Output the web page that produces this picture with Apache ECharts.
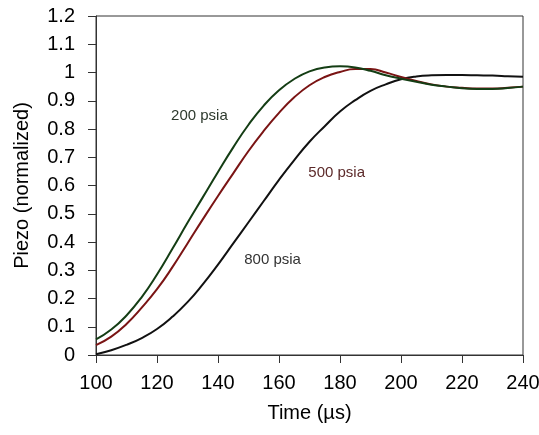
<!DOCTYPE html>
<html>
<head>
<meta charset="utf-8">
<script src="https://cdn.jsdelivr.net/npm/echarts@6/dist/echarts.min.js"></script>
<style>
html,body{margin:0;padding:0;background:#fff;}
#chart{width:539px;height:435px;}
</style>
</head>
<body>
<div id="chart"></div>
<script>
const times = [100,105,110,115,120,125,130,135,140,145,150,155,160,165,170,175,180,185,190,195,200,205,210,215,220,225,230,235,240];
const psia200 = [0.055,0.09,0.14,0.205,0.285,0.375,0.468,0.558,0.648,0.735,0.815,0.883,0.937,0.977,1.004,1.018,1.022,1.018,1.006,0.99,0.978,0.967,0.957,0.95,0.944,0.942,0.942,0.945,0.95];
const psia500 = [0.035,0.065,0.11,0.168,0.233,0.31,0.395,0.48,0.563,0.643,0.722,0.793,0.857,0.912,0.955,0.984,1.002,1.012,1.012,1.0,0.984,0.97,0.958,0.95,0.946,0.943,0.943,0.946,0.95];
const psia800 = [0.003,0.017,0.036,0.06,0.092,0.135,0.187,0.25,0.32,0.395,0.47,0.545,0.62,0.69,0.755,0.81,0.862,0.902,0.935,0.958,0.976,0.986,0.99,0.991,0.991,0.99,0.989,0.987,0.985];
const seriesNames = ['200 psia','500 psia','800 psia'];
const labelPos = [[133.9,0.846],[178.9,0.644],[157.9,0.336]];
const xTicks = {min:100,max:240,interval:20};
const yTicks = {min:0,max:1.2,interval:0.1};

const colors = ['#143d14','#7a1414','#111111'];
const labelColors = ['#2e3a2e','#5c2a2a','#333333'];
const datasets = [psia200, psia500, psia800];

const chart = echarts.init(document.getElementById('chart'), null, {renderer:'canvas'});
const font = 'Liberation Sans, Arial, sans-serif';
chart.setOption({
  animation:false,
  backgroundColor:'#ffffff',
  grid:{left:96,right:16,top:16,bottom:80,containLabel:false,outerBoundsMode:'none',show:true,borderColor:'#333',borderWidth:1,backgroundColor:'transparent'},
  xAxis:{
    type:'value', min:xTicks.min, max:xTicks.max, interval:xTicks.interval,
    name:'Time (µs)', nameLocation:'middle', nameGap:48,
    nameTextStyle:{fontFamily:font,fontSize:20,color:'#000'},
    axisLine:{lineStyle:{color:'#333',width:1}},
    axisTick:{show:true,inside:false,length:8,lineStyle:{color:'#333'}},
    axisLabel:{fontFamily:font,fontSize:20,color:'#000',margin:18},
    splitLine:{show:false}
  },
  yAxis:{
    type:'value', min:yTicks.min, max:yTicks.max, interval:yTicks.interval,
    name:'Piezo (normalized)', nameLocation:'middle', nameGap:64, nameRotate:90,
    nameTextStyle:{fontFamily:font,fontSize:20,color:'#000'},
    axisLine:{show:true,lineStyle:{color:'#333',width:1}},
    axisTick:{show:true,inside:false,length:8,lineStyle:{color:'#333'}},
    axisLabel:{fontFamily:font,fontSize:20,color:'#000',margin:21,
      formatter:function(v){return String(Math.round(v*10)/10);}},
    splitLine:{show:false}
  },
  series: datasets.map(function(d,i){
    return {
      type:'line', name:seriesNames[i],
      data: times.map(function(t,j){return [t,d[j]];}),
      showSymbol:false, smooth:true,
      lineStyle:{color:colors[i],width:2},
      z: 3-i,
      markPoint:{
        symbol:'circle', symbolSize:0,
        data:[{coord:labelPos[i], value:seriesNames[i]}],
        label:{show:true,position:'inside',formatter:seriesNames[i],
          fontFamily:font,fontSize:15,color:labelColors[i]}
      }
    };
  })
});
</script>
</body>
</html>
